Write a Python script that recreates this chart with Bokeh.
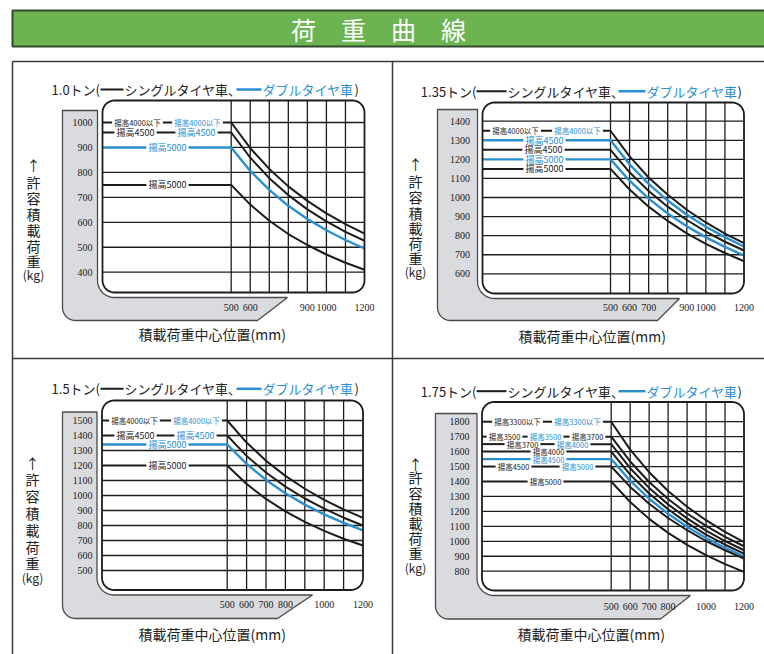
import math
from bokeh.plotting import figure
from bokeh.models import Range1d
from bokeh.core.properties import value
from bokeh.embed import file_html
from bokeh.resources import INLINE

# ---------------- data ----------------
load_center_mm = [500, 600, 700, 800, 900, 1000, 1100, 1200]

# 1.0 t
t10_yticks = [400, 500, 600, 700, 800, 900, 1000]
t10_xticks = [500, 600, 900, 1000, 1200]
t10_single_4000 = [1000, 897, 814, 744, 686, 636, 593, 555]
t10_single_4500 = [960, 859, 777, 709, 652, 604, 562, 526]
t10_double_5000 = [900, 806, 730, 666, 613, 568, 529, 495]
t10_single_5000 = [750, 671, 606, 553, 509, 471, 438, 410]
t10_label_text = ["揚高4000以下", "揚高4000以下", "揚高4500", "揚高4500", "揚高5000", "揚高5000"]
t10_label_kind = ["single", "double", "single", "double", "double", "single"]
t10_label_load = [1000, 1000, 960, 960, 900, 750]

# 1.35 t
t135_yticks = [600, 700, 800, 900, 1000, 1100, 1200, 1300, 1400]
t135_xticks = [500, 600, 700, 900, 1000, 1200]
t135_single_4000 = [1350, 1216, 1105, 1014, 936, 869, 811, 761]
t135_double_4500 = [1300, 1174, 1071, 984, 910, 847, 792, 743]
t135_single_4500 = [1250, 1132, 1034, 952, 882, 821, 768, 722]
t135_double_5000 = [1200, 1088, 994, 916, 849, 791, 741, 696]
t135_single_5000 = [1150, 1042, 952, 877, 812, 757, 709, 666]
t135_label_text = ["揚高4000以下", "揚高4000以下", "揚高4500", "揚高4500", "揚高5000", "揚高5000"]
t135_label_kind = ["single", "double", "double", "single", "double", "single"]
t135_label_load = [1350, 1350, 1300, 1250, 1200, 1150]

# 1.5 t
t15_yticks = [500, 600, 700, 800, 900, 1000, 1100, 1200, 1300, 1400, 1500]
t15_xticks = [500, 600, 700, 800, 1000, 1200]
t15_single_4000 = [1500, 1353, 1232, 1131, 1045, 971, 907, 851]
t15_single_4500 = [1400, 1264, 1153, 1059, 980, 912, 852, 800]
t15_double_5000 = [1340, 1211, 1104, 1015, 939, 874, 817, 767]
t15_single_5000 = [1200, 1077, 977, 894, 824, 764, 712, 667]
t15_label_text = ["揚高4000以下", "揚高4000以下", "揚高4500", "揚高4500", "揚高5000", "揚高5000"]
t15_label_kind = ["single", "double", "single", "double", "double", "single"]
t15_label_load = [1500, 1500, 1400, 1400, 1340, 1200]

# 1.75 t
t175_yticks = [800, 900, 1000, 1100, 1200, 1300, 1400, 1500, 1600, 1700, 1800]
t175_xticks = [500, 600, 700, 800, 1000, 1200]
t175_single_3300 = [1800, 1613, 1462, 1336, 1231, 1141, 1063, 995]
t175_single_3500 = [1700, 1534, 1397, 1283, 1186, 1103, 1030, 967]
t175_single_3700 = [1650, 1489, 1357, 1247, 1153, 1072, 1002, 940]
t175_single_4000 = [1600, 1446, 1320, 1214, 1123, 1045, 977, 918]
t175_double_4500 = [1550, 1405, 1285, 1184, 1097, 1022, 957, 900]
t175_single_4500 = [1500, 1364, 1251, 1156, 1074, 1002, 940, 885]
t175_single_5000 = [1400, 1263, 1150, 1056, 976, 907, 847, 795]
t175_label_text = ["揚高3300以下", "揚高3300以下", "揚高3500", "揚高3500", "揚高3700",
                   "揚高3700", "揚高4000", "揚高4000", "揚高4500", "揚高4500", "揚高5000", "揚高5000"]
t175_label_kind = ["single", "double", "single", "double", "single",
                   "single", "double", "single", "double", "single", "double", "single"]
t175_label_load = [1800, 1800, 1700, 1700, 1700, 1650, 1650, 1600, 1550, 1500, 1500, 1400]

chart_title = "荷　重　曲　線"
single_name = "シングルタイヤ車、"
double_name = "ダブルタイヤ車"
x_title = "積載荷重中心位置(mm)"
y_title_chars = ["↑", "許", "容", "積", "載", "荷", "重", "(kg)"]

# ---------------- styles / layout ----------------
BLACK = "#1c1c1c"
BLUE = "#2a8fd0"
GRAY = "#d9dbde"
KIND_COLOR = {"single": BLACK, "double": BLUE}
JP = value("Noto Sans CJK JP")
NUM = value("Liberation Sans Narrow")

panels = [
    dict(key="a", cap="1.0トン(", yt=t10_yticks, xt=t10_xticks, lfs=9.0,
         series=[(t10_single_4000, "single"), (t10_single_4500, "single"),
                 (t10_double_5000, "double"), (t10_single_5000, "single")],
         lt=t10_label_text, lk=t10_label_kind, ll=t10_label_load,
         lx=[137, 197, 135, 196, 167, 167],
         L=102, R=364, T=100, B=292, X500=230.7, vmax=(1000, 122), vmin=(400, 271.7),
         GL=62, GT=110, GB=320, s1=257, s2=287,
         ytx=92, xty=306.7, ty=89, capx=99.5, d1=(100, 123), sx=124, d2=(236, 261), dx=262, px=354,
         axt=(138, 333.3), ayx=33, ayy=[164, 181, 197, 213, 229, 245, 260, 274]),
    dict(key="b", cap="1.35トン(", yt=t135_yticks, xt=t135_xticks, lfs=9.0,
         series=[(t135_single_4000, "single"), (t135_double_4500, "double"),
                 (t135_single_4500, "single"), (t135_double_5000, "double"),
                 (t135_single_5000, "single")],
         lt=t135_label_text, lk=t135_label_kind, ll=t135_label_load,
         lx=[515, 577, 544, 543, 544, 544],
         L=482, R=743.5, T=102, B=293, X500=610, vmax=(1400, 120.7), vmin=(600, 273.3),
         GL=437, GT=109, GB=320, s1=657, s2=679,
         ytx=469.5, xty=306.7, ty=90.7, capx=476, d1=(476, 506), sx=507, d2=(618, 645), dx=646, px=737,
         axt=(518, 335), ayx=415, ayy=[163, 180, 196, 212, 227, 242, 257, 271]),
    dict(key="c", cap="1.5トン(", yt=t15_yticks, xt=t15_xticks, lfs=9.0,
         series=[(t15_single_4000, "single"), (t15_single_4500, "single"),
                 (t15_double_5000, "double"), (t15_single_5000, "single")],
         lt=t15_label_text, lk=t15_label_kind, ll=t15_label_load,
         lx=[134, 196, 135, 195, 167, 167],
         L=101.5, R=362.5, T=400, B=589.5, X500=226.7, vmax=(1500, 420), vmin=(500, 570),
         GL=62, GT=411.5, GB=618, s1=277, s2=312,
         ytx=92, xty=604, ty=388.3, capx=99.5, d1=(100, 123), sx=124, d2=(236, 261), dx=262, px=354,
         axt=(138, 633), ayx=32, ayy=[462, 478, 495, 512, 529, 546, 562, 577]),
    dict(key="d", cap="1.75トン(", yt=t175_yticks, xt=t175_xticks, lfs=7.5,
         series=[(t175_single_3300, "single"), (t175_single_3500, "single"),
                 (t175_single_3700, "single"), (t175_single_4000, "single"),
                 (t175_double_4500, "double"), (t175_single_4500, "single"),
                 (t175_single_5000, "single")],
         lt=t175_label_text, lk=t175_label_kind, ll=t175_label_load,
         lx=[517, 577, 504, 545, 587, 522, 572, 548, 548, 513, 577, 545],
         L=481.5, R=743.5, T=401.5, B=590, X500=610.7, vmax=(1800, 421.2), vmin=(800, 570.7),
         GL=435, GT=413, GB=618.5, s1=660, s2=690,
         ytx=469, xty=606, ty=390.7, capx=476, d1=(476, 506), sx=507, d2=(618, 645), dx=646, px=737,
         axt=(517, 633.3), ayx=415, ayy=[463, 476, 492, 507, 522, 537, 552, 567]),
]

X0, X1, Y0, Y1 = 0, 764, 0, 654   # page area in reference pixels


def rrect(l, t, r, b, rad, n=10):
    xs, ys = [], []
    for cx, cy, a0 in [(l + rad, t + rad, math.pi), (r - rad, t + rad, 1.5 * math.pi),
                       (r - rad, b - rad, 0.0), (l + rad, b - rad, 0.5 * math.pi)]:
        for i in range(n + 1):
            a = a0 + 0.5 * math.pi * i / n
            xs.append(cx + rad * math.cos(a))
            ys.append(cy + rad * math.sin(a))
    return xs, ys


def gray_l(g, ro=13, r=12, gap=5, n=10):
    L, B = g["L"], g["B"]
    xs, ys = [g["GL"]], [g["GT"]]
    for i in range(n + 1):
        a = math.pi - 0.5 * math.pi * i / n
        xs.append(g["GL"] + ro + ro * math.cos(a))
        ys.append(g["GB"] - ro + ro * math.sin(a))
    xs += [g["s1"], g["s2"]]
    ys += [g["GB"], B + gap]
    rr = r + gap
    for i in range(n + 1):
        a = 0.5 * math.pi + 0.5 * math.pi * i / n
        xs.append(L + r + rr * math.cos(a))
        ys.append(B - r + rr * math.sin(a))
    xs.append(L - gap)
    ys.append(g["GT"])
    return xs, ys


def text_width(s, fs):
    return sum(fs if ord(c) > 0x2E80 else 0.56 * fs for c in s)


def label_fs(text, base):
    return 7.5 if "以下" in text else base


p = figure(width=764, height=654, x_range=Range1d(X0, X1), y_range=Range1d(Y1, Y0),
           output_backend="svg", toolbar_location=None, min_border=0,
           x_axis_type=None, y_axis_type=None)
p.outline_line_color = None
p.background_fill_color = "white"
p.border_fill_color = "white"

# title bar
p.quad(left=[12], right=[800], top=[10], bottom=[46], fill_color="#6cb452",
       line_color="#33472f", line_width=2)
p.text(x=[378], y=[28.5], text=[chart_title], text_color="white", text_font=JP,
       text_font_size="25px", text_align="center", text_baseline="middle")

# panel frame lines
p.segment(x0=[12, 12, 392, 12], y0=[61, 61, 61, 358], x1=[800, 12, 392, 800], y1=[61, 700, 700, 358],
          line_color="#3a3a3a", line_width=1.5)

extra_x, extra_y = {}, {}
for g in panels:
    k = 700.0 / (g["R"] - g["X500"])
    mm = lambda X, g=g, k=k: 500 + (X - g["X500"]) * k
    (va, ya), (vb, yb) = g["vmax"], g["vmin"]
    kg = lambda Y, va=va, ya=ya, vb=vb, yb=yb: va - (Y - ya) * (va - vb) / (yb - ya)
    g["mm"] = mm
    extra_x[g["key"] + "x"] = Range1d(mm(X0), mm(X1))
    extra_y[g["key"] + "y"] = Range1d(kg(Y1), kg(Y0))
p.extra_x_ranges = extra_x
p.extra_y_ranges = extra_y

for g in panels:
    xr, yr = g["key"] + "x", g["key"] + "y"
    L, R, T, B = g["L"], g["R"], g["T"], g["B"]
    mm = g["mm"]
    fss = [label_fs(t, g["lfs"]) for t in g["lt"]]
    # gray L-shaped axis band
    gx, gy = gray_l(g)
    p.patch(gx, gy, fill_color=GRAY, line_color="#4a4a4a", line_width=1.3)
    # plot box
    bx, by = rrect(L, T, R, B, 12)
    p.patch(bx, by, fill_color="white", line_color=None)
    # grid (rows that carry a curve's flat part are drawn by the curve itself)
    flat_vals = {vals[0] for vals, _ in g["series"]}
    gx0 = [g["X500"] if v in flat_vals else L for v in g["yt"]]
    p.segment(x0=gx0, x1=[R] * len(g["yt"]), y0=g["yt"], y1=g["yt"],
              y_range_name=yr, line_color=BLACK, line_width=1.3)
    vx = load_center_mm[:-1]
    p.segment(x0=vx, x1=vx, y0=[T] * len(vx), y1=[B] * len(vx),
              x_range_name=xr, line_color=BLACK, line_width=1.3)
    # curves: flat part broken where its mast labels sit, then the falling part
    for vals, kind in g["series"]:
        gaps = sorted((lx - text_width(t, f) / 2 - 2, lx + text_width(t, f) / 2 + 2)
                      for lx, t, v, f in zip(g["lx"], g["lt"], g["ll"], fss) if v == vals[0])
        starts = [L] + [b for a, b in gaps]
        ends = [a for a, b in gaps] + [None]
        xs_list, ys_list = [], []
        for s, e in zip(starts, ends):
            if e is None:
                xs_list.append([mm(s)] + load_center_mm)
                ys_list.append([vals[0]] + vals)
            elif e > s:
                xs_list.append([mm(s), mm(e)])
                ys_list.append([vals[0], vals[0]])
        p.multi_line(xs_list, ys_list, x_range_name=xr, y_range_name=yr,
                     line_color=KIND_COLOR[kind], line_width=2.4 if kind == "double" else 2.0)
    # mast labels
    p.text(x=g["lx"], y=g["ll"], text=g["lt"], text_color=[KIND_COLOR[c] for c in g["lk"]],
           y_range_name=yr, text_font=JP, text_font_size=[f"{f}px" for f in fss],
           text_align="center", text_baseline="middle")
    # box outline
    p.patch(bx, by, fill_color=None, line_color=BLACK, line_width=1.8)
    # tick labels
    p.text(x=[g["ytx"]] * len(g["yt"]), y=g["yt"], text=[str(v) for v in g["yt"]],
           y_range_name=yr, text_font=NUM, text_font_size="10px", text_color="#222",
           text_align="right", text_baseline="middle")
    p.text(x=g["xt"], y=[g["xty"]] * len(g["xt"]), text=[str(v) for v in g["xt"]],
           x_range_name=xr, text_font=NUM, text_font_size="10px", text_color="#222",
           text_align="center", text_baseline="middle")
    # panel title with legend keys
    ty = g["ty"]
    p.text(x=[g["capx"]], y=[ty], text=[g["cap"]], text_font=JP, text_font_size="13px",
           text_color="#222", text_align="right", text_baseline="middle")
    p.segment(x0=[g["d1"][0]], x1=[g["d1"][1]], y0=[ty], y1=[ty], line_color=BLACK, line_width=2)
    p.text(x=[g["sx"]], y=[ty], text=[single_name], text_font=JP, text_font_size="13px",
           text_color="#222", text_align="left", text_baseline="middle")
    p.segment(x0=[g["d2"][0]], x1=[g["d2"][1]], y0=[ty], y1=[ty], line_color=BLUE, line_width=2.4)
    p.text(x=[g["dx"]], y=[ty], text=[double_name], text_font=JP, text_font_size="13px",
           text_color=BLUE, text_align="left", text_baseline="middle")
    p.text(x=[g["px"]], y=[ty], text=[")"], text_font=JP, text_font_size="13px",
           text_color="#222", text_align="left", text_baseline="middle")
    # axis titles
    p.text(x=[g["axt"][0]], y=[g["axt"][1]], text=[x_title], text_font=JP, text_font_size="14px",
           text_color="#222", text_align="left", text_baseline="middle")
    p.text(x=[g["ayx"]] * len(y_title_chars), y=g["ayy"], text=y_title_chars, text_font=JP,
           text_font_size=["14px"] * 7 + ["12px"], text_color="#222", text_align="center",
           text_baseline="middle")

open("out.html", "w").write(file_html(p, INLINE))
